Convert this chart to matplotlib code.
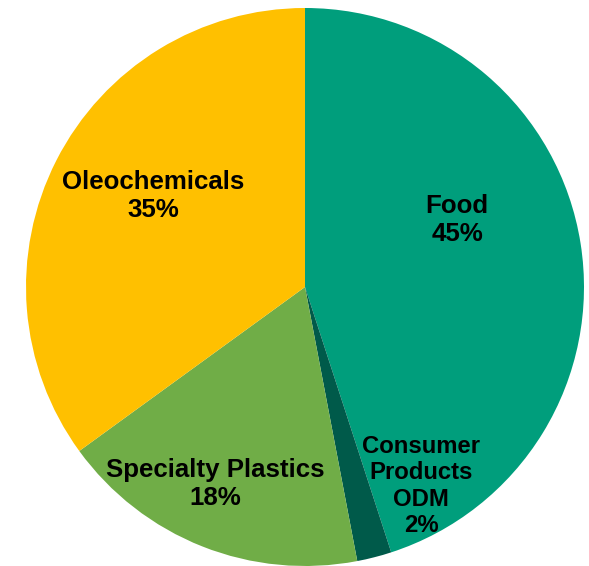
import matplotlib.pyplot as plt

# segment shares, clockwise from 12 o'clock
segments = ["Food", "Consumer\nProducts\nODM", "Specialty Plastics", "Oleochemicals"]
shares = [45, 2, 18, 35]
colors = ["#009E7C", "#005A4A", "#70AD47", "#FFC000"]

# label anchors in pixel space (x, y from top)
label_xy = [(457, 220), (421, 486), (215, 484), (153, 196)]
label_size = [18.6, 17.2, 18.6, 18.6]

W, H = 589, 566
fig = plt.figure(figsize=(W / 100, H / 100), dpi=100)
ax = fig.add_axes([0, 0, 1, 1])

ax.pie(shares, colors=colors, startangle=90, counterclock=False,
       center=(305, H - 287), radius=279, frame=True,
       wedgeprops=dict(linewidth=0))
ax.set_xlim(0, W)
ax.set_ylim(0, H)
ax.set_aspect("equal")
ax.axis("off")

for name, val, (x, y), fs in zip(segments, shares, label_xy, label_size):
    ax.text(x, H - y, f"{name}\n{val}%", ha="center", va="center",
            fontsize=fs, fontweight="bold", family="Liberation Sans",
            linespacing=1.2, color="black")

fig.savefig("out.png", dpi=100)
